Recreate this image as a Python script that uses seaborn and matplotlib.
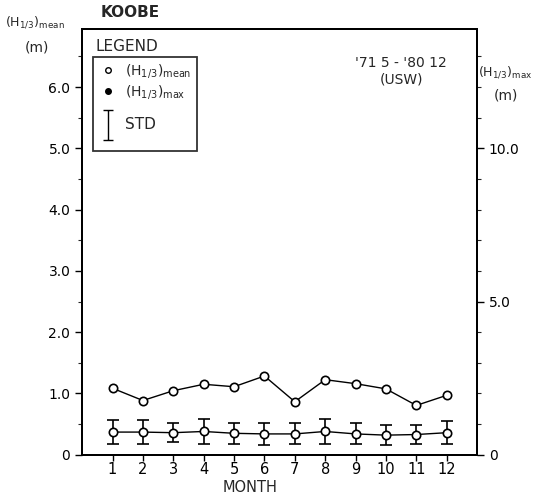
import numpy as np
import pandas as pd
import matplotlib
matplotlib.use("Agg")
import matplotlib.pyplot as plt
from matplotlib.lines import Line2D
from matplotlib.path import Path
from matplotlib.ticker import MultipleLocator
import seaborn as sns

# data
months = [1, 2, 3, 4, 5, 6, 7, 8, 9, 10, 11, 12]
h_mean = [0.37, 0.37, 0.36, 0.38, 0.35, 0.34, 0.34, 0.38, 0.34, 0.32, 0.33, 0.36]
h_std = [0.19, 0.19, 0.15, 0.20, 0.17, 0.18, 0.17, 0.20, 0.17, 0.16, 0.16, 0.19]
h_max = [2.17, 1.77, 2.09, 2.30, 2.22, 2.57, 1.73, 2.45, 2.32, 2.15, 1.61, 1.94]

df = pd.DataFrame({"month": months, "mean": h_mean, "std": h_std, "max": h_max})

sns.set_style("ticks")
plt.rcParams["font.family"] = ["DejaVu Sans"]
plt.rcParams["mathtext.fontset"] = "dejavusans"

fig = plt.figure(figsize=(5.44, 4.97), dpi=100)
ax = fig.add_axes([0.151, 0.085, 0.726, 0.857])
ax2 = ax.twinx()

# mean with std error bars (left axis)
ax.errorbar(df["month"], df["mean"], yerr=df["std"], fmt="none", ecolor="black",
            elinewidth=1.2, capsize=4, capthick=1.2, zorder=2)
sns.lineplot(data=df, x="month", y="mean", ax=ax, color="black", lw=1,
             marker="o", markersize=6, markerfacecolor="white",
             markeredgecolor="black", markeredgewidth=1.2, zorder=3)

# max on right axis
sns.lineplot(data=df, x="month", y="max", ax=ax2, color="black", lw=1,
             marker="o", markersize=6, markerfacecolor="white",
             markeredgecolor="black", markeredgewidth=1.2)

ax.set_xlim(0, 13)
ax.set_ylim(0, 6.95)
ax2.set_ylim(0, 13.9)

ax.set_xticks(months)
ax.set_xticklabels([str(m) for m in months], fontsize=10.5)
ax.set_yticks([0, 1, 2, 3, 4, 5, 6])
ax.set_yticklabels(["0", "1.0", "2.0", "3.0", "4.0", "5.0", "6.0"], fontsize=10)
ax.yaxis.set_minor_locator(MultipleLocator(0.5))
ax2.set_yticks([0, 5, 10])
ax2.set_yticklabels(["0", "5.0", "10.0"], fontsize=10)
ax2.yaxis.set_minor_locator(MultipleLocator(1))

for a in (ax, ax2):
    a.set_xlabel("")
    a.set_ylabel("")
    for s in a.spines.values():
        s.set_visible(True)
        s.set_linewidth(1.4)
        s.set_color("black")
    a.tick_params(which="major", direction="out", length=5, width=1, colors="black")
    a.tick_params(which="minor", direction="out", length=3, width=0.8)
ax.tick_params(axis="x", length=4, pad=1.5)

# legend
cap = Path([(-0.35, 1), (0.35, 1), (0, 1), (0, -1), (-0.35, -1), (0.35, -1)],
           [Path.MOVETO, Path.LINETO, Path.MOVETO, Path.LINETO, Path.MOVETO, Path.LINETO])
handles = [
    Line2D([], [], ls="none", marker="o", markersize=4, markerfacecolor="white",
           markeredgecolor="black"),
    Line2D([], [], ls="none", marker="o", markersize=4, markerfacecolor="black",
           markeredgecolor="black"),
    Line2D([], [], ls="none", marker=cap, markersize=22, markeredgewidth=1,
           color="black"),
]
labels = [r"(H$_{1/3}$)$_{\rm mean}$", r"(H$_{1/3}$)$_{\rm max}$", "\nSTD\n"]
leg = ax.legend(handles, labels, loc="upper left", bbox_to_anchor=(0.028, 0.935),
                frameon=True, fancybox=False, edgecolor="black", fontsize=10,
                handlelength=1.4, handletextpad=0.5, labelspacing=0.2,
                borderpad=0.4, borderaxespad=0)
leg.get_frame().set_linewidth(1.3)
leg.get_texts()[2].set_fontsize(11)
leg.get_texts()[2].set_linespacing(0.85)

ax.text(0.035, 0.975, "LEGEND", transform=ax.transAxes, fontsize=11,
        ha="left", va="top")
ax.text(0.808, 0.92, "'71 5 - '80 12", transform=ax.transAxes, fontsize=10,
        ha="center", va="center")
ax.text(0.808, 0.88, "(USW)", transform=ax.transAxes, fontsize=10,
        ha="center", va="center")

fig.text(0.185, 0.975, "KOOBE", fontsize=11, fontweight="semibold", ha="left", va="center")
fig.text(0.01, 0.955, r"(H$_{1/3}$)$_{\rm mean}$", fontsize=9, ha="left", va="center")
fig.text(0.068, 0.905, "(m)", fontsize=10, ha="center", va="center")
fig.text(0.878, 0.855, r"(H$_{1/3}$)$_{\rm max}$", fontsize=9, ha="left", va="center")
fig.text(0.93, 0.808, "(m)", fontsize=10, ha="center", va="center")
fig.text(0.46, 0.02, "MONTH", fontsize=10.5, ha="center", va="center")

fig.savefig("out.png", dpi=100)
